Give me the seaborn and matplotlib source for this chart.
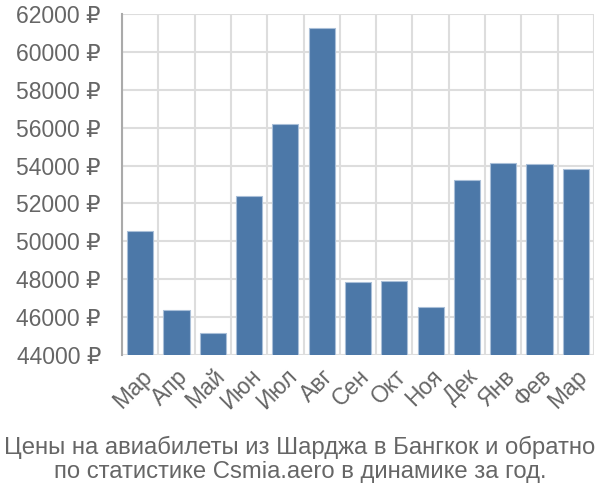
import matplotlib
matplotlib.use("Agg")
import matplotlib.pyplot as plt
import seaborn as sns
import pandas as pd
from matplotlib.ticker import FixedLocator

months = ["Мар", "Апр", "Май", "Июн", "Июл", "Авг", "Сен", "Окт", "Ноя", "Дек", "Янв", "Фев", "Мар"]
prices = [50560, 46350, 45160, 52400, 56200, 61280, 47860, 47890, 46510, 53220, 54150, 54060, 53840]
yticks = [44000, 46000, 48000, 50000, 52000, 54000, 56000, 58000, 60000, 62000]
title = "Цены на авиабилеты из Шарджа в Бангкок и обратно\nпо статистике Csmia.aero в динамике за год."

sns.set_theme(style="white")
plt.rcParams['font.family'] = ['Liberation Sans', 'DejaVu Sans']

keys = [f"{m}_{i}" for i, m in enumerate(months)]
df = pd.DataFrame({"key": keys, "price": prices})

fig = plt.figure(figsize=(6, 5), dpi=100)
ax = fig.add_axes([122/600, 1-355/500, (594-122)/600, (355-14)/500])

sns.barplot(data=df, x="key", y="price", order=keys, color="#4c78a8", saturation=1,
            width=0.72, edgecolor="#a9bfd8", linewidth=0.8, ax=ax, zorder=3)

ax.set_ylim(44000, 62000)
ax.set_xlim(-0.5, len(months) - 0.5)
ax.set_yticks(yticks)
ax.set_yticklabels([f"{v} ₽" for v in yticks], fontsize=16.5, color="#666666")
ax.set_xticks(range(len(months)))
ax.set_xticklabels(months, rotation=45, ha="right", rotation_mode="anchor", fontsize=16.5, color="#666666")
ax.xaxis.set_minor_locator(FixedLocator([i - 0.5 for i in range(len(months) + 1)]))
ax.tick_params(axis="x", which="major", length=0, pad=7)
ax.tick_params(axis="x", which="minor", length=13.7, color="#dddddd", width=1.5, direction="out")
ax.tick_params(axis="y", which="major", length=13.7, color="#dddddd", width=1.5, pad=1.5)
ax.grid(True, axis="y", which="major", color="#dddddd", linewidth=1.5, zorder=0)
ax.grid(True, axis="x", which="minor", color="#dddddd", linewidth=1.5, zorder=0)
ax.set_axisbelow(True)
for s in ["top", "right", "bottom"]:
    ax.spines[s].set_visible(False)
ax.spines["left"].set_color("#aaaaaa")
ax.spines["left"].set_linewidth(1.5)
ax.set_xlabel("")
ax.set_ylabel("")

fig.text(0.5, 0.081, title, ha="center", va="center", fontsize=17.2, color="#666666", linespacing=1.15)

fig.savefig("out.png", dpi=100)
